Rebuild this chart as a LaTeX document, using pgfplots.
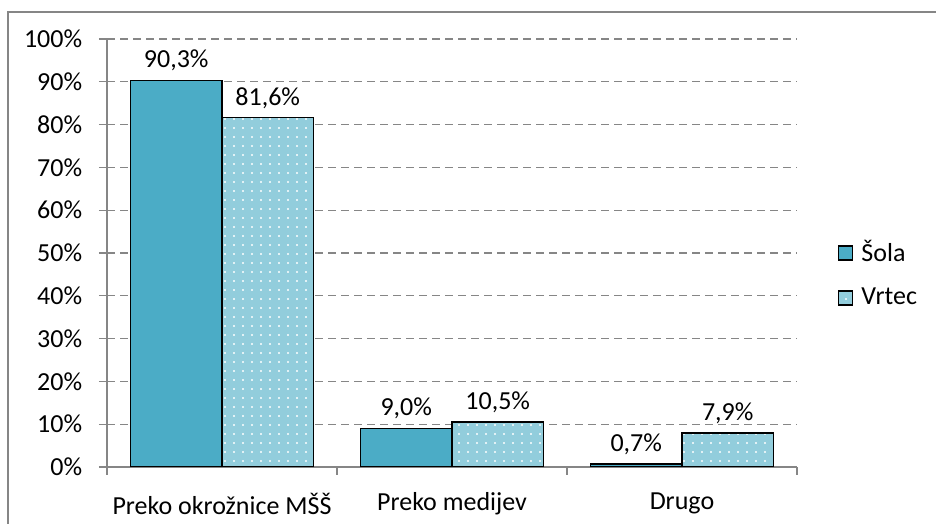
\documentclass[border=0pt]{standalone}
\usepackage{pgfplots}
\pgfplotsset{compat=1.18}
\usepackage{fontspec}
\setmainfont{Carlito}
\usetikzlibrary{patterns.meta}
\definecolor{sola}{HTML}{4BACC6}
\definecolor{vrtec}{HTML}{92CDDC}
\definecolor{axgray}{HTML}{868686}

\begin{document}
\fontsize{26}{30}\selectfont
\begin{tikzpicture}[x=1pt,y=1pt]
\path[use as bounding box] (0,0) rectangle (936,524);
\draw[axgray, line width=1.6pt] (8,-20) -- (8,512) -- (960,512);
\begin{axis}[
  at={(107pt,57pt)}, anchor=south west,
  scale only axis, width=690pt, height=428pt,
  ybar=0pt, bar width=91.5pt,
  xmin=-0.5, xmax=2.5, ymin=0, ymax=100,
  xtick={-0.5,0.5,1.5,2.5},
  x tick label as interval,
  xticklabels={Preko okrožnice MŠŠ, Preko medijev, Drugo,},
  ytick={0,10,...,100},
  yticklabel={\pgfmathprintnumber{\tick}\%},
  /pgf/number format/assume math mode=true,
  axis x line*=bottom, axis y line*=left,
  axis line style={axgray, line width=1.3pt},
  tick align=outside,
  major tick length=8pt,
  tick style={axgray, line width=1.3pt},
  ymajorgrids,
  grid style={axgray, line width=1.3pt, dash pattern=on 8pt off 5pt},
  tick label style={font=\fontsize{26}{30}\selectfont},
  yticklabel style={xshift=-8pt},
  xticklabel style={yshift=-9pt},
  nodes near coords={\pgfmathprintnumber[fixed,fixed zerofill,precision=1,use comma]{\pgfplotspointmeta}\%},
  every node near coord/.append style={font=\fontsize{26}{30}\selectfont, black, yshift=0pt},
  legend style={at={(1.055,0.45)}, anchor=west, draw=none, fill=none,
    font=\fontsize{26}{30}\selectfont, row sep=18pt,
    /tikz/every odd column/.append style={column sep=6pt}},
  legend cell align=left,
  legend image code/.code={\draw[#1, line width=1.3pt] (0pt,-7pt) rectangle (14pt,7pt);},
]
\addplot[fill=sola, draw=black, line width=1.5pt] coordinates {(0,90.3) (1,9.0) (2,0.7)};
\addplot[fill=vrtec, draw=black, line width=1.5pt,
  postaction={pattern={Dots[distance=9pt, radius=1.2pt]}, pattern color=white}]
  coordinates {(0,81.6) (1,10.5) (2,7.9)};
\legend{Šola, Vrtec}
\end{axis}
\end{tikzpicture}
\end{document}
